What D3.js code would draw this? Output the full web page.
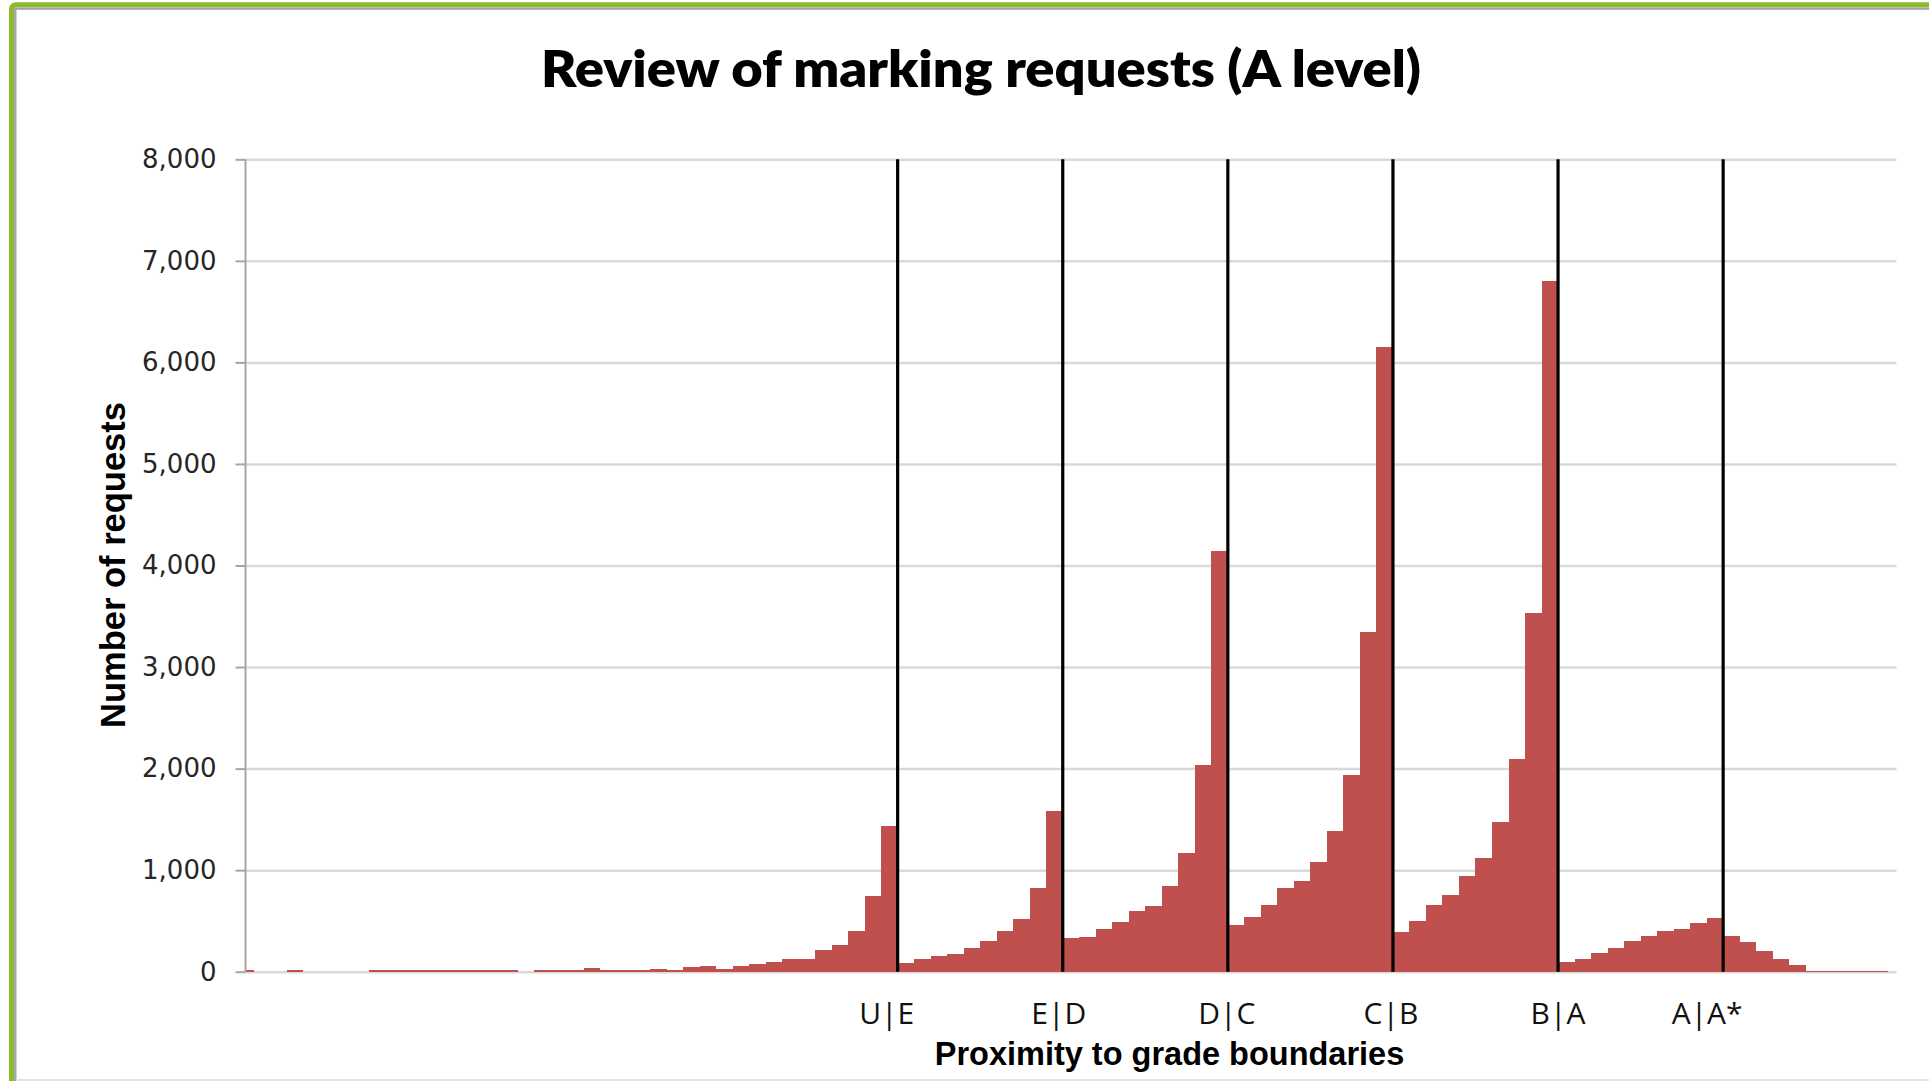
<!DOCTYPE html>
<html>
<head>
<meta charset="utf-8">
<script src="https://cdn.jsdelivr.net/npm/d3@7"></script>
<style>
  body { margin: 0; background: #fff; }
  svg { display: block; }
</style>
</head>
<body>
<div id="chart"></div>
<script>

// Review requests per mark position (bar 0 .. bar 99)
var requests = [
  15, 0, 0, 15, 0, 0, 0, 0, 12, 12,
  12, 12, 12, 12, 12, 12, 12, 0, 12, 12,
  12, 32, 12, 12, 12, 28, 12, 42, 55, 25,
  58, 72, 100, 128, 128, 218, 259, 404, 745, 1435,
  85, 121, 151, 171, 230, 299, 404, 522, 821, 1582,
  328, 345, 420, 492, 594, 643, 847, 1172, 2038, 4138,
  463, 538, 653, 821, 893, 1080, 1389, 1937, 3344, 6154,
  390, 495, 657, 760, 938, 1115, 1475, 2090, 3531, 6797,
  98, 125, 187, 230, 302, 348, 404, 420, 479, 525,
  348, 289, 200, 125, 69, 8, 8, 8, 8, 8
];

// grade boundaries: the first bar of the higher grade
var boundaryLabels = ["U|E", "E|D", "D|C", "C|B", "B|A", "A|A*"];
var boundaryStart = [40, 50, 60, 70, 80, 90];

var yTicks = [0, 1000, 2000, 3000, 4000, 5000, 6000, 7000, 8000];

var titleText = "Review of marking requests (A level)";
var xTitle = "Proximity to grade boundaries";
var yTitle = "Number of requests";

// set the dimensions and margins of the graph
var W = 1929, H = 1081;
var margin = {top: 159.3, right: 32.5, bottom: 109.3, left: 245.5},
    width = W - margin.left - margin.right,
    height = H - margin.top - margin.bottom;

var root = d3.select("#chart")
  .append("svg")
    .attr("width", W)
    .attr("height", H);

// outer frame (green, rounded top-left corner, cut by the picture edge)
root.append("rect")
  .attr("x", 11.5).attr("y", 4.8)
  .attr("width", 2000).attr("height", 2000)
  .attr("rx", 4)
  .attr("fill", "none")
  .attr("stroke", "#8bba2a")
  .attr("stroke-width", 5);
root.append("rect")
  .attr("x", 15.3).attr("y", 8.6)
  .attr("width", 2000).attr("height", 2000)
  .attr("fill", "none")
  .attr("stroke", "#a3a3a3")
  .attr("stroke-width", 2.4);
root.append("line")
  .attr("x1", 16).attr("x2", W)
  .attr("y1", 1080).attr("y2", 1080)
  .attr("stroke", "#e2e2e2")
  .attr("stroke-width", 2);

// title
root.append("text")
  .attr("x", 981).attr("y", 87)
  .attr("text-anchor", "middle")
  .attr("textLength", 880)
  .attr("lengthAdjust", "spacingAndGlyphs")
  .style("font-family", "Lato, 'Open Sans', sans-serif")
  .style("font-weight", 800)
  .style("font-size", "51px")
  .style("fill", "#000")
  .text(titleText);

var svg = root.append("g")
  .attr("transform", "translate(" + margin.left + "," + margin.top + ")");

// X scale: bar i sits on [i - 0.5, i + 0.5]
var x = d3.scaleLinear()
  .domain([0, 100])
  .range([0, width]);

// Y scale
var y = d3.scaleLinear()
  .domain([0, 8000])
  .range([height, 0]);

// gridlines
svg.append("g")
  .call(d3.axisLeft(y).tickValues(yTicks).tickSize(-width).tickFormat(""))
  .call(function(g) { g.select(".domain").remove(); })
  .selectAll("line")
    .attr("stroke", "#d9d9d9")
    .attr("stroke-width", 2.5);

// bars
svg.append("clipPath").attr("id", "plotclip")
  .append("rect")
    .attr("x", 0).attr("y", -5)
    .attr("width", width).attr("height", height + 10);

svg.append("g")
  .attr("clip-path", "url(#plotclip)")
  .selectAll("rect")
  .data(requests)
  .enter()
  .append("rect")
    .attr("x", function(d, i) { return x(i - 0.5); })
    .attr("width", function(d, i) { return x(i + 0.5) - x(i - 0.5); })
    .attr("y", function(d) { return y(d); })
    .attr("height", function(d) { return height - y(d); })
    .attr("fill", "#c0504d")
    .attr("shape-rendering", "crispEdges");

// Y axis
var yAxis = svg.append("g")
  .call(d3.axisLeft(y).tickValues(yTicks).tickSize(10).tickPadding(19).tickFormat(d3.format(",")));
yAxis.select(".domain")
  .attr("stroke", "#a6a6a6")
  .attr("stroke-width", 2)
  .attr("d", "M0," + height + "V0");
yAxis.selectAll(".tick line")
  .attr("stroke", "#a6a6a6")
  .attr("stroke-width", 2);
yAxis.selectAll(".tick text")
  .style("font-family", "'DejaVu Sans', sans-serif")
  .style("font-size", "26px")
  .style("fill", "#262626");

// grade boundary lines and their labels
var labelNudge = [-11, -4, -1, -2, 0, -16];

svg.append("g")
  .selectAll("line")
  .data(boundaryStart)
  .enter()
  .append("line")
    .attr("x1", function(d) { return x(d - 0.5); })
    .attr("x2", function(d) { return x(d - 0.5); })
    .attr("y1", y(8000))
    .attr("y2", y(0))
    .attr("stroke", "#000")
    .attr("stroke-width", 3.2);

svg.append("g")
  .selectAll("text")
  .data(boundaryStart)
  .enter()
  .append("text")
    .attr("x", function(d, i) { return x(d - 0.5) + labelNudge[i]; })
    .attr("y", height + 52.5)
    .attr("text-anchor", "middle")
    .style("font-family", "'Open Sans', sans-serif")
    .style("font-size", "30px")
    .style("fill", "#111")
    .text(function(d, i) { return boundaryLabels[i]; });

// axis titles
root.append("text")
  .attr("x", 1169.5).attr("y", 1065)
  .attr("text-anchor", "middle")
  .style("font-family", "'Liberation Sans', Arial, sans-serif")
  .style("font-weight", 700)
  .style("font-size", "32.5px")
  .style("fill", "#000")
  .text(xTitle);

root.append("text")
  .attr("transform", "translate(125,565) rotate(-90)")
  .attr("text-anchor", "middle")
  .style("font-family", "'Liberation Sans', Arial, sans-serif")
  .style("font-weight", 700)
  .style("font-size", "34.5px")
  .style("fill", "#000")
  .text(yTitle);

</script>
</body>
</html>
